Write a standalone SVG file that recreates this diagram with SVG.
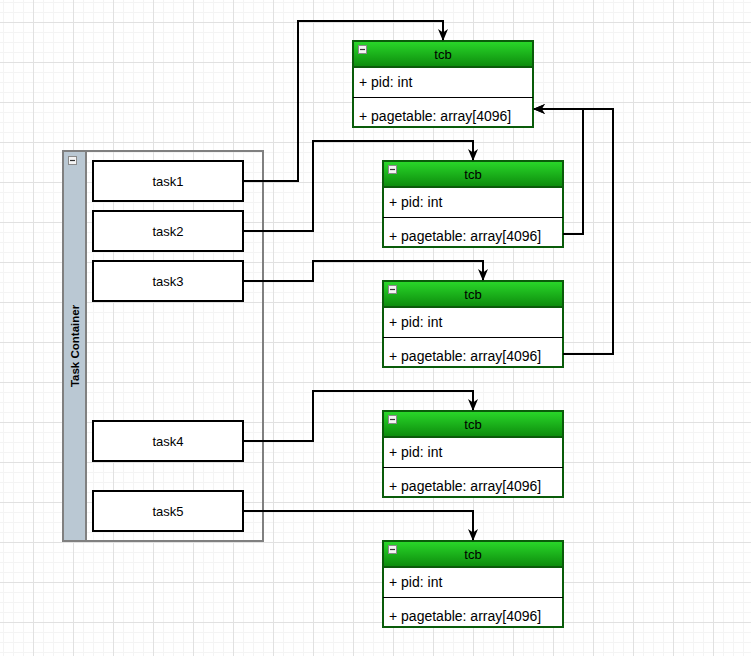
<svg xmlns="http://www.w3.org/2000/svg" width="751" height="656" viewBox="0 0 751 656">
<style>
.task{fill:#fff;stroke:#000;stroke-width:2}
.tl{font-family:"Liberation Sans",Arial,sans-serif;font-size:13px;fill:#000;text-anchor:middle}
.hd{fill:url(#gr);stroke:#0a5c0a;stroke-width:2}
.bd{fill:#fff;stroke:#0a5c0a;stroke-width:2}
.div{stroke:#000;stroke-width:1}
.ft{font-family:"Liberation Sans",Arial,sans-serif;font-size:14px;fill:#000}
.ht{font-family:"Liberation Sans",Arial,sans-serif;font-size:13px;fill:#000;text-anchor:middle}
.ic{fill:#f4f4f4;stroke:#8a8a8a;stroke-width:1}
.icm{stroke:#333;stroke-width:1.2}
.edge{fill:none;stroke:#000;stroke-width:2;marker-end:url(#arr)}
</style>
<defs>
<pattern id="minor" x="3" y="2" width="10" height="10" patternUnits="userSpaceOnUse">
<rect x="0" y="0" width="10" height="1" fill="#f4f4f4"/>
<rect x="0" y="0" width="1" height="10" fill="#f4f4f4"/>
</pattern>
<pattern id="major" x="33" y="22" width="40" height="40" patternUnits="userSpaceOnUse">
<rect x="0" y="0" width="40" height="1" fill="#e1e1e1"/>
<rect x="0" y="0" width="1" height="40" fill="#e1e1e1"/>
</pattern>
<linearGradient id="gr" x1="0" y1="0" x2="0" y2="1">
<stop offset="0" stop-color="#2ad92a"/>
<stop offset="1" stop-color="#0c8a0c"/>
</linearGradient>
<marker id="arr" viewBox="0 0 12 10" refX="11" refY="5" markerWidth="12" markerHeight="10" orient="auto" markerUnits="userSpaceOnUse">
<path d="M0,0 L12,5 L0,10 L3.5,5 Z" fill="#000"/>
</marker>
</defs>
<rect width="751" height="656" fill="#fff"/>
<rect width="751" height="656" fill="url(#minor)"/>
<rect width="751" height="656" fill="url(#major)"/>

<g id="container">
<rect x="63" y="151" width="200" height="390" fill="none" stroke="#808080" stroke-width="2"/>
<rect x="63" y="151" width="23" height="390" fill="#bac8d3" stroke="#808080" stroke-width="2"/>
<rect class="ic" x="68.5" y="156.5" width="8" height="8"/>
<line class="icm" x1="70" y1="160.5" x2="75" y2="160.5"/>
<text transform="translate(79,346) rotate(-90)" font-family="Liberation Sans, Arial, sans-serif" font-size="11.5" font-weight="bold" text-anchor="middle">Task Container</text>
</g>

<g id="task1"><rect class="task" x="93" y="161" width="150" height="40"/><text class="tl" x="168" y="185.5">task1</text></g>
<g id="task2"><rect class="task" x="93" y="211" width="150" height="40"/><text class="tl" x="168" y="235.5">task2</text></g>
<g id="task3"><rect class="task" x="93" y="261" width="150" height="40"/><text class="tl" x="168" y="285.5">task3</text></g>
<g id="task4"><rect class="task" x="93" y="421" width="150" height="40"/><text class="tl" x="168" y="445.5">task4</text></g>
<g id="task5"><rect class="task" x="93" y="491" width="150" height="40"/><text class="tl" x="168" y="515.5">task5</text></g>

<g id="tcb1" transform="translate(353,41)">
<rect class="bd" x="0" y="0" width="180" height="86"/>
<rect class="hd" x="0" y="0" width="180" height="26"/>
<line class="div" x1="0" y1="56.5" x2="180" y2="56.5"/>
<rect class="ic" x="5.5" y="4.5" width="8" height="8"/>
<line class="icm" x1="7" y1="8.5" x2="12" y2="8.5"/>
<text class="ht" x="90" y="17.5">tcb</text>
<text class="ft" x="6" y="46">+ pid: int</text>
<text class="ft" x="6" y="80">+ pagetable: array[4096]</text>
</g>
<g id="tcb2" transform="translate(383,161)">
<rect class="bd" x="0" y="0" width="180" height="86"/>
<rect class="hd" x="0" y="0" width="180" height="26"/>
<line class="div" x1="0" y1="56.5" x2="180" y2="56.5"/>
<rect class="ic" x="5.5" y="4.5" width="8" height="8"/>
<line class="icm" x1="7" y1="8.5" x2="12" y2="8.5"/>
<text class="ht" x="90" y="17.5">tcb</text>
<text class="ft" x="6" y="46">+ pid: int</text>
<text class="ft" x="6" y="80">+ pagetable: array[4096]</text>
</g>
<g id="tcb3" transform="translate(383,281)">
<rect class="bd" x="0" y="0" width="180" height="86"/>
<rect class="hd" x="0" y="0" width="180" height="26"/>
<line class="div" x1="0" y1="56.5" x2="180" y2="56.5"/>
<rect class="ic" x="5.5" y="4.5" width="8" height="8"/>
<line class="icm" x1="7" y1="8.5" x2="12" y2="8.5"/>
<text class="ht" x="90" y="17.5">tcb</text>
<text class="ft" x="6" y="46">+ pid: int</text>
<text class="ft" x="6" y="80">+ pagetable: array[4096]</text>
</g>
<g id="tcb4" transform="translate(383,411)">
<rect class="bd" x="0" y="0" width="180" height="86"/>
<rect class="hd" x="0" y="0" width="180" height="26"/>
<line class="div" x1="0" y1="56.5" x2="180" y2="56.5"/>
<rect class="ic" x="5.5" y="4.5" width="8" height="8"/>
<line class="icm" x1="7" y1="8.5" x2="12" y2="8.5"/>
<text class="ht" x="90" y="17.5">tcb</text>
<text class="ft" x="6" y="46">+ pid: int</text>
<text class="ft" x="6" y="80">+ pagetable: array[4096]</text>
</g>
<g id="tcb5" transform="translate(383,541)">
<rect class="bd" x="0" y="0" width="180" height="86"/>
<rect class="hd" x="0" y="0" width="180" height="26"/>
<line class="div" x1="0" y1="56.5" x2="180" y2="56.5"/>
<rect class="ic" x="5.5" y="4.5" width="8" height="8"/>
<line class="icm" x1="7" y1="8.5" x2="12" y2="8.5"/>
<text class="ht" x="90" y="17.5">tcb</text>
<text class="ft" x="6" y="46">+ pid: int</text>
<text class="ft" x="6" y="80">+ pagetable: array[4096]</text>
</g>

<g id="connectors">
<path class="edge" d="M243,181 H298 V21 H443 V40"/>
<path class="edge" d="M243,231 H313 V141 H473 V160"/>
<path class="edge" d="M243,281 H313 V261 H483 V280"/>
<path class="edge" d="M243,441 H313 V391 H473 V410"/>
<path class="edge" d="M243,511 H473 V540"/>
<path class="edge" d="M563,234 H583 V109 H534"/>
<path class="edge" d="M563,354 H613 V109 H534"/>
</g>
</svg>
